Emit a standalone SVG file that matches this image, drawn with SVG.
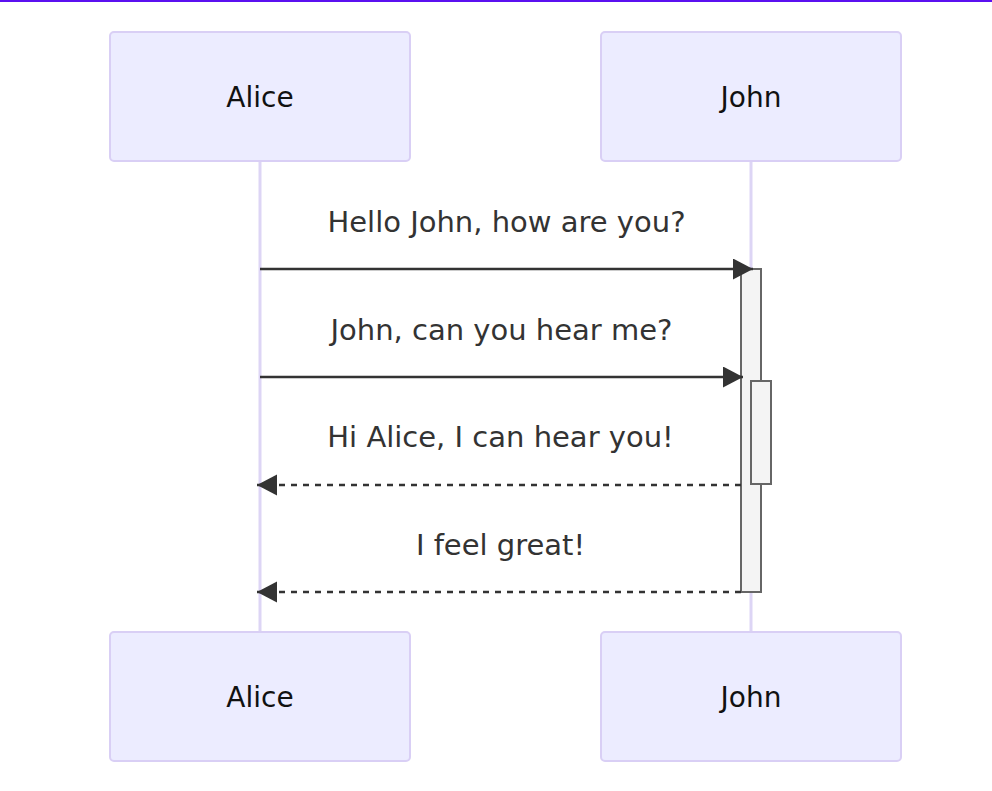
<svg xmlns="http://www.w3.org/2000/svg" width="992" height="791" viewBox="0 0 992 791">
<style>
.actor{fill:#ececff;stroke:#d9cff5;stroke-width:2}
.lifeline{stroke:#ddd5f5;stroke-width:3}
.atext{font-family:"DejaVu Sans",Verdana,sans-serif;font-size:28px;fill:#111;text-anchor:middle}
.mtext{font-family:"DejaVu Sans",Verdana,sans-serif;font-size:29px;fill:#333;text-anchor:middle}
.msg{stroke:#333;stroke-width:2.5;fill:none}
.dash{stroke-dasharray:6,6}
.act{fill:#f4f4f4;stroke:#666;stroke-width:2}
</style>
<defs>
<marker id="ah" markerUnits="userSpaceOnUse" markerWidth="22" markerHeight="22" refX="20" refY="10.5" orient="auto">
<path d="M0,0 L20,10.5 L0,21 z" fill="#333"/>
</marker>
</defs>
<rect x="0" y="0" width="992" height="791" fill="#fff"/>
<rect x="0" y="0" width="992" height="2" fill="#5b10f0"/>
<g id="lifelines">
<line class="lifeline" x1="260" y1="162" x2="260" y2="632"/>
<line class="lifeline" x1="751" y1="162" x2="751" y2="632"/>
</g>
<g id="alice-top"><rect class="actor" x="110" y="32" width="300" height="129" rx="4"/><text class="atext" x="260" y="107">Alice</text></g>
<g id="john-top"><rect class="actor" x="601" y="32" width="300" height="129" rx="4"/><text class="atext" x="751" y="107">John</text></g>
<g id="alice-bottom"><rect class="actor" x="110" y="632" width="300" height="129" rx="4"/><text class="atext" x="260" y="707">Alice</text></g>
<g id="john-bottom"><rect class="actor" x="601" y="632" width="300" height="129" rx="4"/><text class="atext" x="751" y="707">John</text></g>
<g id="act1"><rect class="act" x="741" y="269" width="20" height="323"/></g>
<g id="act2"><rect class="act" x="751" y="381" width="20" height="103"/></g>
<g id="connectors">
<line class="msg" x1="260" y1="269" x2="753" y2="269" marker-end="url(#ah)"/>
<line class="msg" x1="260" y1="377" x2="743" y2="377" marker-end="url(#ah)"/>
<line class="msg dash" x1="741" y1="485" x2="257" y2="485" marker-end="url(#ah)"/>
<line class="msg dash" x1="741" y1="592" x2="257" y2="592" marker-end="url(#ah)"/>
</g>
<g id="labels">
<text class="mtext" x="506.5" y="232">Hello John, how are you?</text>
<text class="mtext" x="501.5" y="340">John, can you hear me?</text>
<text class="mtext" x="500.5" y="447">Hi Alice, I can hear you!</text>
<text class="mtext" x="500.5" y="555">I feel great!</text>
</g>
</svg>
